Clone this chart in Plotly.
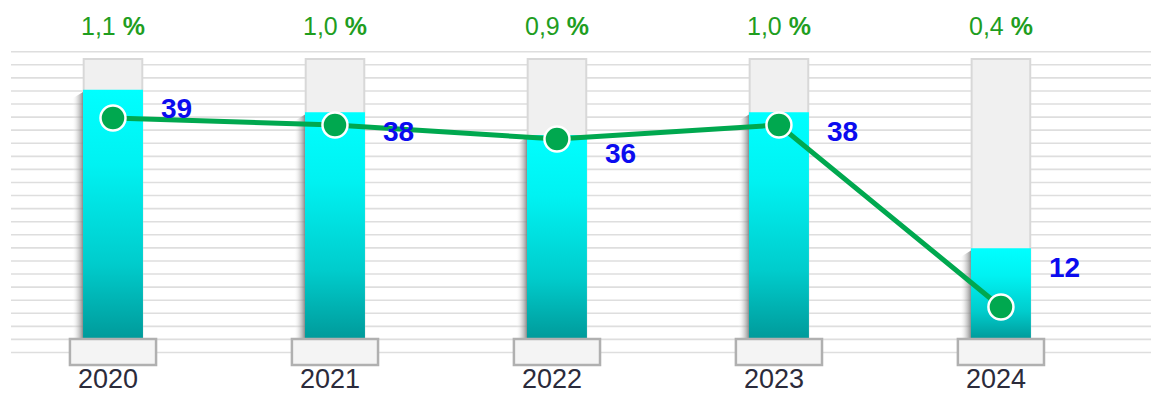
import numpy as np
import plotly.graph_objects as go

# ---- data ----
years = ["2020", "2021", "2022", "2023", "2024"]
share_pct = [1.1, 1.0, 0.9, 1.0, 0.4]          # bar values (%)
share_labels = ["1,1", "1,0", "0,9", "1,0", "0,4"]
counts = [39, 38, 36, 38, 12]                   # line values

# ---- style / layout constants ----
W, H = 1151, 393
CYAN_SCALE = [[0, "#009a9a"], [0.3, "#00cccc"], [0.7, "#00f2f2"], [1, "#00ffff"]]
LINE_GREEN = "#00a84f"
PCT_GREEN = "#1f9e1f"
LABEL_BLUE = "#0b0bef"
YEAR_COLOR = "#2b2b3b"

bar_half = 0.135
track_half = 0.132
base_half = 0.194
shadow_w = 0.05
y_range = [-0.2382, 1.4954]      # percent axis
y2_range = [-0.286, 55.857]      # count axis
track_top = 1.235
base_depth = -0.115

xs = np.arange(len(years))

fig = go.Figure()

shapes = []
# horizontal background rules
for yp in np.linspace(51.7, 352.5, 24):
    shapes.append(dict(type="line", xref="paper", yref="paper",
                       x0=11 / W, x1=1, y0=1 - yp / H, y1=1 - yp / H,
                       line=dict(color="#dedede", width=1.6), layer="below"))
# grey tracks behind bars
for x in xs:
    shapes.append(dict(type="rect", xref="x", yref="y",
                       x0=x - track_half, x1=x + track_half, y0=0, y1=track_top,
                       fillcolor="#f0f0f0", line=dict(color="#d8d8d8", width=2),
                       layer="below"))
# plinths
for x in xs:
    shapes.append(dict(type="rect", xref="x", yref="y",
                       x0=x - base_half, x1=x + base_half, y0=base_depth, y1=0,
                       fillcolor="#f4f4f4", line=dict(color="#b0b0b0", width=2.5),
                       layer="above"))

# shadows and gradient bars
for x, v in zip(xs, share_pct):
    fig.add_trace(go.Scatter(
        x=[x - bar_half - shadow_w, x - bar_half, x - bar_half, x - bar_half - shadow_w, x - bar_half - shadow_w],
        y=[0, 0, v - 0.01, v - 0.04, 0],
        fill="toself", mode="lines", line=dict(width=0), hoverinfo="skip",
        fillgradient=dict(type="horizontal",
                          colorscale=[[0, "rgba(255,255,255,0)"], [0.5, "rgba(185,185,185,0.45)"],
                                      [1, "rgba(120,120,120,0.85)"]]),
        showlegend=False))
    fig.add_trace(go.Scatter(
        x=[x - bar_half, x + bar_half, x + bar_half, x - bar_half, x - bar_half],
        y=[0, 0, v, v, 0],
        fill="toself", mode="lines", line=dict(width=0), hoverinfo="skip",
        fillgradient=dict(type="vertical", colorscale=CYAN_SCALE),
        showlegend=False))

# line of counts
fig.add_trace(go.Scatter(
    x=xs, y=counts, yaxis="y2", mode="lines+markers",
    line=dict(color=LINE_GREEN, width=5),
    marker=dict(size=25, color=LINE_GREEN, line=dict(color="white", width=2.5)),
    showlegend=False, hoverinfo="skip"))

annotations = []
for x, v, c, p, yr in zip(xs, share_pct, counts, share_labels, years):
    annotations.append(dict(x=x, y=v, xref="x", yref="y", text=f"<b>{c}</b>",
                            showarrow=False, xshift=64, yshift=-19,
                            font=dict(family="Liberation Sans, Arial", size=28, color=LABEL_BLUE)))
    annotations.append(dict(x=x, y=1 - 26 / H, xref="x", yref="paper",
                            text=f"{p} <b>%</b>", showarrow=False, yanchor="middle",
                            font=dict(family="Liberation Sans, Arial", size=25, color=PCT_GREEN)))
    annotations.append(dict(x=x, y=1 - 379 / H, xref="x", yref="paper", text=yr,
                            showarrow=False, yanchor="middle", xshift=-5,
                            font=dict(family="Liberation Sans, Arial", size=27, color=YEAR_COLOR)))

fig.update_layout(
    width=W, height=H,
    margin=dict(l=0, r=0, t=0, b=0),
    paper_bgcolor="white", plot_bgcolor="white",
    xaxis=dict(range=[-0.509, 4.676], visible=False, fixedrange=True),
    yaxis=dict(range=y_range, visible=False, fixedrange=True),
    yaxis2=dict(range=y2_range, overlaying="y", visible=False, fixedrange=True),
    shapes=shapes, annotations=annotations,
)

fig.write_html("out.html", config={"displayModeBar": False},
               post_script="document.body.style.margin='0';document.body.style.overflow='hidden';")
